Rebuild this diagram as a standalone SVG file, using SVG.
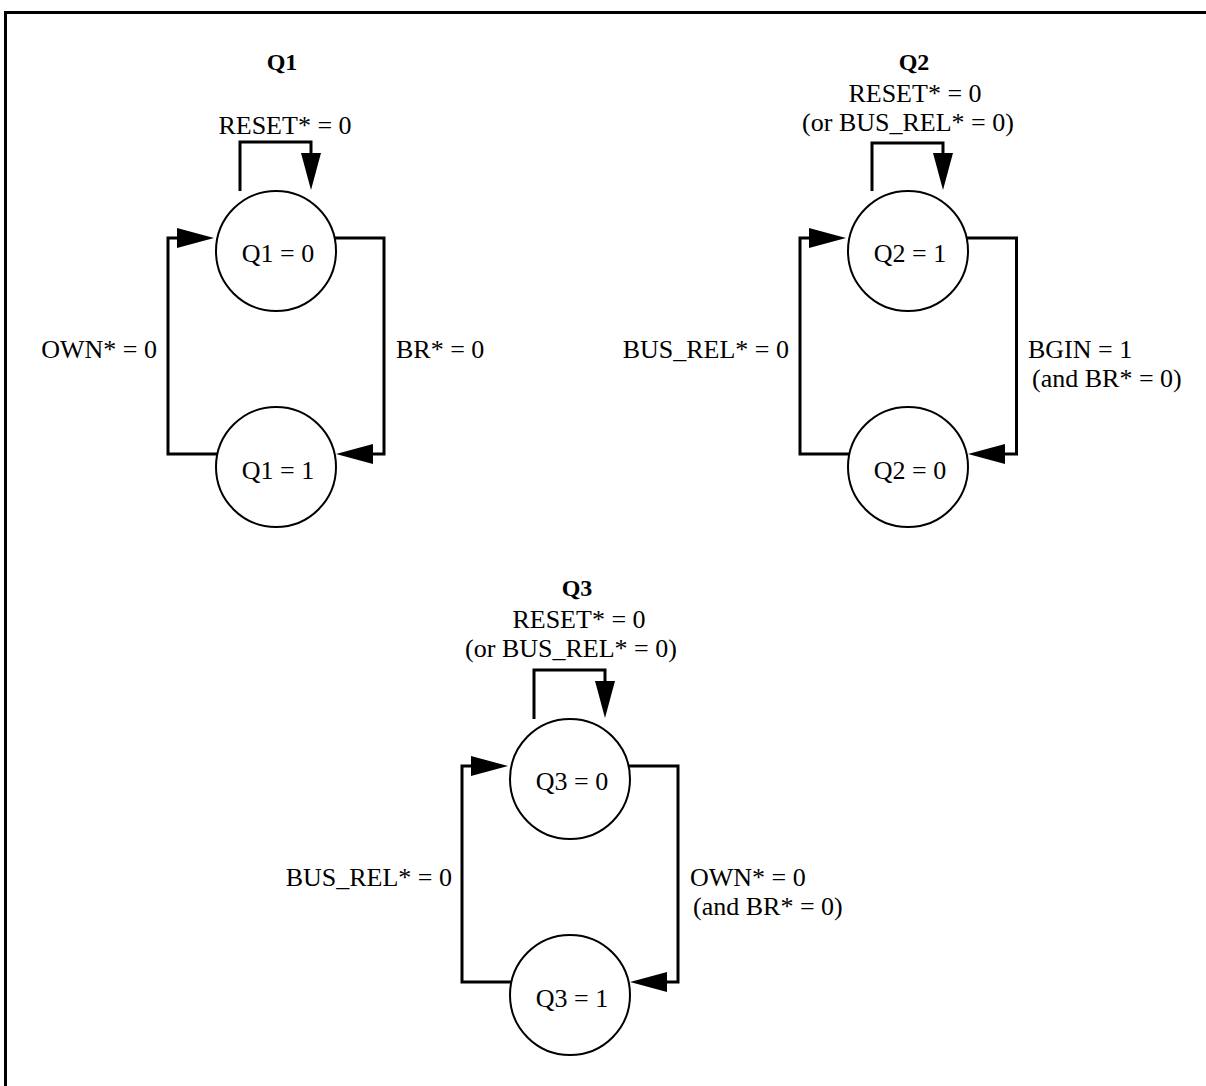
<svg xmlns="http://www.w3.org/2000/svg" xmlns:xlink="http://www.w3.org/1999/xlink" width="1206" height="1086" viewBox="0 0 1206 1086">
<style>
text{font-family:"Liberation Serif","Times New Roman",serif;font-size:26px;fill:#000}
.t{font-weight:bold;font-size:24px;text-anchor:middle}
.m{text-anchor:middle}
.e{text-anchor:end}
.st{fill:#fff;stroke:#000;stroke-width:2}
.w{fill:none;stroke:#000;stroke-width:3}
</style>
<defs>
<path id="ah" d="M0,0 L-37,-10 L-37,10 Z" fill="#000"/>
</defs>
<rect width="1206" height="1086" fill="#fff"/>
<path class="w" d="M5.5,1086 V12.5 H1206"/>
<g id="labels">
<text class="t" x="282" y="70">Q1</text>
<text class="m" x="285" y="134">RESET* = 0</text>
<text class="e" x="157" y="358">OWN* = 0</text>
<text x="396" y="358">BR* = 0</text>
<text class="t" x="914" y="70">Q2</text>
<text class="m" x="915" y="102">RESET* = 0</text>
<text class="m" x="908" y="131">(or BUS_REL* = 0)</text>
<text class="e" x="789" y="358">BUS_REL* = 0</text>
<text x="1028" y="358">BGIN = 1</text>
<text x="1032" y="387">(and BR* = 0)</text>
<text class="t" x="577" y="596">Q3</text>
<text class="m" x="579" y="628">RESET* = 0</text>
<text class="m" x="571" y="657">(or BUS_REL* = 0)</text>
<text class="e" x="452" y="886">BUS_REL* = 0</text>
<text x="690" y="886">OWN* = 0</text>
<text x="693" y="915">(and BR* = 0)</text>
</g>
<g id="connectors">
<path class="w" d="M240,191 V142 H311 V154"/>
<use xlink:href="#ah" transform="translate(311,190) rotate(90)"/>
<path class="w" d="M217,454 H168 V238 H179"/>
<use xlink:href="#ah" transform="translate(214,238)"/>
<path class="w" d="M335,238 H384 V454 H372"/>
<use xlink:href="#ah" transform="translate(336,454) rotate(180)"/>
<path class="w" d="M872,191 V143 H943 V154"/>
<use xlink:href="#ah" transform="translate(943,190) rotate(90)"/>
<path class="w" d="M849,454 H800 V238 H811"/>
<use xlink:href="#ah" transform="translate(846,238)"/>
<path class="w" d="M967,238 H1016.5 V454 H1004"/>
<use xlink:href="#ah" transform="translate(968,454) rotate(180)"/>
<path class="w" d="M534,719 V670 H605 V682"/>
<use xlink:href="#ah" transform="translate(605,718) rotate(90)"/>
<path class="w" d="M511,982 H462 V766 H473"/>
<use xlink:href="#ah" transform="translate(508,766)"/>
<path class="w" d="M629,766 H678 V982 H666"/>
<use xlink:href="#ah" transform="translate(630,982) rotate(180)"/>
</g>
<g id="q1_0"><circle class="st" cx="276" cy="251" r="60"/><text class="m" x="278" y="262">Q1 = 0</text></g>
<g id="q1_1"><circle class="st" cx="276" cy="467" r="60"/><text class="m" x="278" y="479">Q1 = 1</text></g>
<g id="q2_1"><circle class="st" cx="908" cy="251" r="60"/><text class="m" x="910" y="262">Q2 = 1</text></g>
<g id="q2_0"><circle class="st" cx="908" cy="467" r="60"/><text class="m" x="910" y="479">Q2 = 0</text></g>
<g id="q3_0"><circle class="st" cx="570" cy="779" r="60"/><text class="m" x="572" y="790">Q3 = 0</text></g>
<g id="q3_1"><circle class="st" cx="570" cy="995" r="60"/><text class="m" x="572" y="1007">Q3 = 1</text></g>
</svg>
